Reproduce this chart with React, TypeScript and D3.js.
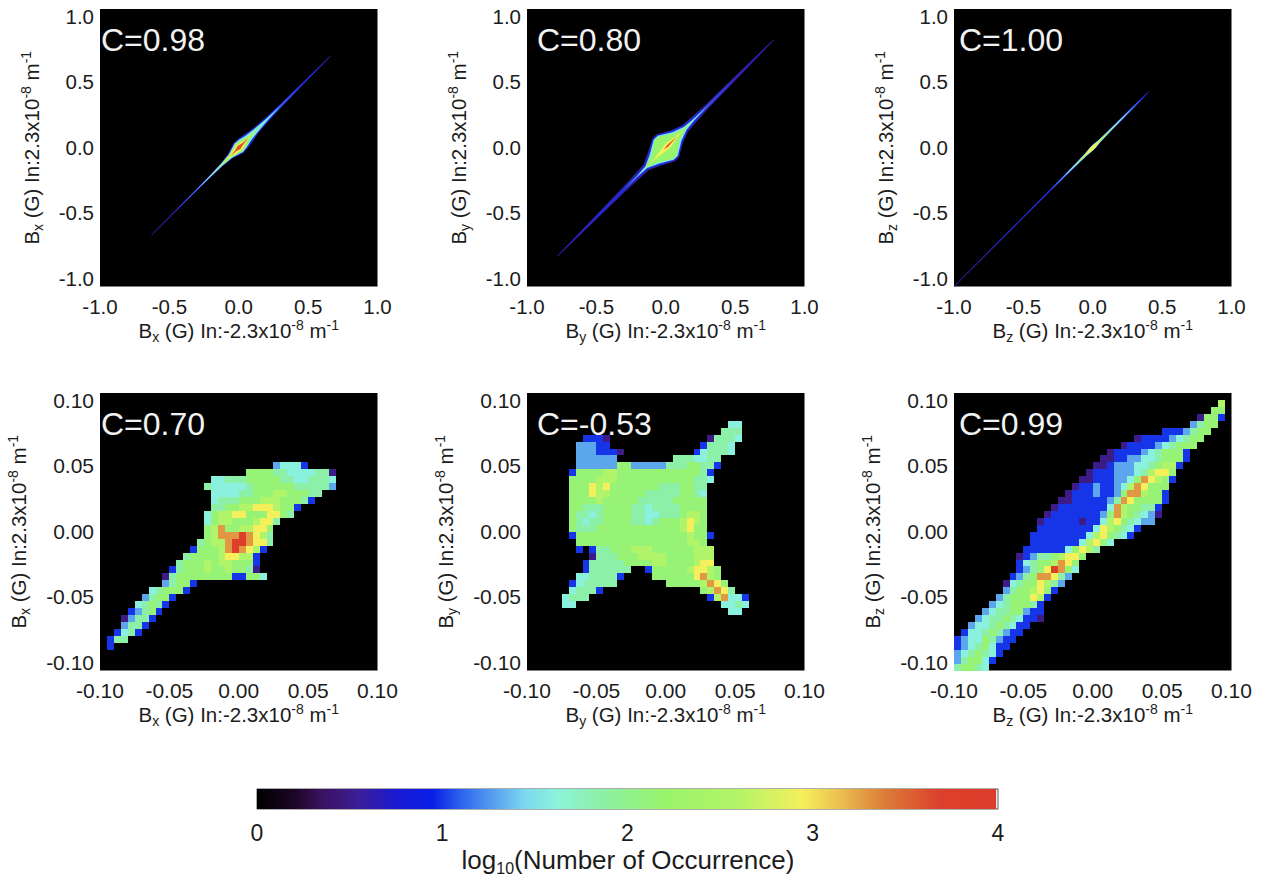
import React from "react";
import * as d3 from "d3";

// colour bar: log10(count) -> colour
const colorStops = [0, 0.2, 0.35, 0.55, 0.75, 0.95, 1.1, 1.3, 1.45, 1.62, 1.85, 2.2, 2.6, 2.95, 3.15, 3.4, 3.7, 4];
const colorValues = ["#000000", "#1c0626", "#3a1260", "#3c1e96", "#1a1ad2", "#0a1ee6", "#2c62ee", "#5ca6ee", "#7cd8f0", "#8cf4dc", "#8cf0a8", "#98f46c", "#b4f468", "#f4f05c", "#ecc050", "#dc7c38", "#dc402c", "#dc3c2c"];
const colorbarTicks = [0, 1, 2, 3, 4];

const wideTicks = [-1, -0.5, 0, 0.5, 1];
const narrowTicks = [-0.1, -0.05, 0, 0.05, 0.1];

// digit in the rows below -> log10(count) of a bin
const binLevels = [0.5, 1.0, 1.3, 1.6, 1.85, 2.15, 2.55, 2.95, 3.3, 3.75];

// 40x40 histograms, top row first. "col:digits" = run of bins starting at that column
const bxRows = [
  "", "", "", "", "", "", "", "", "", "",
  "25:23331",
  "21:5555443333440",
  "16:334445555544334443",
  "15:4333334555555444442",
  "16:3333445556655544",
  "16:344455566655541",
  "16:4455667776551",
  "15:3566775557754",
  "15:35665556774",
  "15:5685566775",
  "15:5688898764",
  "14:45668998774",
  "13:15556898761",
  "12:45555677661",
  "11:455565665551",
  "10:1455565565540",
  "9:045555555511553",
  "9:24551",
  "7:345551",
  "6:24551",
  "5:34541",
  "4:12451",
  "3:02441",
  "3:2441",
  "2:1341",
  "1:144",
  "1:1",
];

const byRows = [
  "", "", "", "",
  "29:33",
  "28:444",
  "8:111 11:0 26:04443",
  "7:22211 25:14443",
  "7:2221110 24:134443",
  "7:222222 21:4443344",
  "7:222222552222244455441",
  "6:155556655555555555541",
  "6:555566655555555555443",
  "6:55576755555554445544",
  "6:55576655555444445543",
  "6:55556555554444455555",
  "6:55444555544344445555",
  "6:54434555544334445665",
  "6:54344555544345556765",
  "6:54445555555555556755",
  "6:155555555555555556551",
  "7:5555555555555555665",
  "7:1 9:1 10:44555666555555666",
  "9:0 10:44455566665555666",
  "8:1 9:444445555665555677",
  "8:1444444 17:1 18:5555567765",
  "7:3344441 18:5555557865",
  "6:1 7:344444 20:555556875",
  "6:34441 25:56874",
  "5:3444 26:168331",
  "5:33 28:3343",
  "29:33",
];

const bzRows = [
  "",
  "38:6",
  "37:55",
  "35:0 36:551",
  "34:2455",
  "30:1112455",
  "26:0111123455",
  "24:01111234555",
  "22:011112345551",
  "21:0011223345551",
  "20:0012223345661",
  "19:0111222346775",
  "18:00111223587651",
  "17:01121123687555",
  "16:011121125886551",
  "15:0011111248755551",
  "14:0111111138655441",
  "13:01111111258654320",
  "12:01111101136754322",
  "12:111111113765431",
  "11:111111113675431",
  "11:111111136753",
  "10:11111135764",
  "9:0124456775",
  "9:134556875",
  "9:124579853",
  "8:124588742",
  "7:034557642",
  "7:24556751",
  "6:24555761",
  "5:23455541",
  "4:234455211",
  "3:2344543110",
  "2:233454311",
  "1:133454211",
  "0:123354211",
  "0:12345311",
  "0:2345431",
  "0:245531",
  "0:45543",
];

// top row: nested ridges along the diagonal, half thickness across it per colour level
const ridgeLevels = [0.6, 1.0, 1.55, 2.2, 2.95, 3.6];

const bxAlong = [-0.63, -0.45, -0.3, -0.2, -0.12, -0.06, -0.02, 0, 0.03, 0.07, 0.12, 0.2, 0.3, 0.45, 0.66];
const bxHalf = [
  [0.002, 0.003, 0.004, 0.005, 0.009, 0.016, 0.03, 0.036, 0.034, 0.028, 0.018, 0.012, 0.008, 0.005, 0.002],
  [0, 0.001, 0.002, 0.004, 0.007, 0.014, 0.027, 0.033, 0.031, 0.026, 0.016, 0.01, 0.006, 0.003, 0],
  [0, 0, 0.001, 0.003, 0.006, 0.012, 0.024, 0.03, 0.027, 0.018, 0.012, 0.005, 0.001, 0, 0],
  [0, 0, 0, 0, 0.003, 0.01, 0.02, 0.026, 0.022, 0.01, 0.002, 0, 0, 0, 0],
  [0, 0, 0, 0, 0, 0.003, 0.014, 0.018, 0.012, 0.002, 0, 0, 0, 0, 0],
  [0, 0, 0, 0, 0, 0, 0.004, 0.01, 0.004, 0, 0, 0, 0, 0, 0],
];

const byAlong = [-0.78, -0.5, -0.3, -0.2, -0.14, -0.08, -0.015, 0.015, 0.08, 0.14, 0.2, 0.3, 0.5, 0.78];
const byHalf = [
  [0.002, 0.008, 0.012, 0.017, 0.02, 0.048, 0.082, 0.082, 0.044, 0.022, 0.018, 0.012, 0.008, 0.002],
  [0, 0.002, 0.004, 0.007, 0.012, 0.042, 0.077, 0.077, 0.04, 0.016, 0.01, 0.004, 0.001, 0],
  [0, 0, 0, 0.002, 0.006, 0.034, 0.072, 0.072, 0.032, 0.01, 0.004, 0.001, 0, 0],
  [0, 0, 0, 0, 0.002, 0.024, 0.066, 0.066, 0.022, 0.004, 0, 0, 0, 0],
  [0, 0, 0, 0, 0, 0.002, 0.012, 0.016, 0.004, 0, 0, 0, 0, 0],
  [0, 0, 0, 0, 0, 0, 0, 0.005, 0, 0, 0, 0, 0, 0],
];

const bzAlong = [-1, -0.6, -0.3, -0.2, -0.12, -0.05, -0.01, 0.01, 0.05, 0.12, 0.2, 0.3, 0.36, 0.41];
const bzHalf = [
  [0.002, 0.003, 0.004, 0.005, 0.006, 0.008, 0.012, 0.012, 0.008, 0.006, 0.006, 0.005, 0.004, 0.001],
  [0, 0.001, 0.002, 0.004, 0.0055, 0.0075, 0.011, 0.011, 0.0075, 0.0055, 0.0055, 0.0045, 0.002, 0],
  [0, 0, 0, 0.002, 0.0045, 0.0065, 0.01, 0.01, 0.0065, 0.0045, 0.0035, 0.001, 0, 0],
  [0, 0, 0, 0, 0.001, 0.005, 0.009, 0.009, 0.005, 0.003, 0, 0, 0, 0],
  [0, 0, 0, 0, 0, 0.002, 0.008, 0.008, 0.001, 0, 0, 0, 0, 0],
  [0, 0, 0, 0, 0, 0, 0, 0, 0, 0, 0, 0, 0, 0],
];

const color = d3.scaleLinear<string>().domain(colorStops).range(colorValues).interpolate(d3.interpolateRgb).clamp(true);

const FONT = "'Liberation Sans', Arial, sans-serif";
const INK = "#1c1c1c";
const panelSize = 277.5;

function AxisTitle(props: { comp: string; sign: string; x: number; y: number; rotate?: boolean }) {
  const { comp, sign, x, y, rotate } = props;
  return (
    <text
      x={x}
      y={y}
      transform={rotate ? `rotate(-90 ${x} ${y})` : undefined}
      textAnchor="middle"
      fontFamily={FONT}
      fontSize={20.5}
      fill={INK}
    >
      B
      <tspan fontSize={14} dy={4}>{comp}</tspan>
      <tspan dy={-4}>{` (G) In:${sign}2.3x10`}</tspan>
      <tspan fontSize={14} dy={-8}>-8</tspan>
      <tspan dy={8}> m</tspan>
      <tspan fontSize={14} dy={-8}>-1</tspan>
    </text>
  );
}

function Frame(props: {
  left: number; top: number; ticks: number[]; fmt: string; comp: string; corr: string; labelX: number;
  tickSize: number; yTitleGap: number; children: React.ReactNode;
}) {
  const { left, top, ticks, fmt, comp, corr, labelX, tickSize, yTitleGap, children } = props;
  const max = ticks[ticks.length - 1];
  const xPos = d3.scaleLinear().domain([-max, max]).range([left, left + panelSize]);
  // the y labels are pulled inside the frame in the original
  const yLabel = d3.scaleLinear().domain([-max, max]).range([top + panelSize - 8, top + 8]);
  const f = (v: number) => d3.format(fmt)(v).replace("\u2212", "-");
  return (
    <g>
      <rect x={left} y={top} width={panelSize} height={panelSize} fill="#000" />
      {children}
      <text x={labelX} y={top + 42} fontFamily={FONT} fontSize={32} fill="#f2f2f2">{`C=${corr}`}</text>
      {ticks.map((t) => (
        <text key={"y" + t} x={left - 6} y={yLabel(t) + 7} textAnchor="end" fontFamily={FONT} fontSize={tickSize} fill={INK}>{f(t)}</text>
      ))}
      {ticks.map((t) => (
        <text key={"x" + t} x={xPos(t)} y={top + panelSize + 27} textAnchor="middle" fontFamily={FONT} fontSize={tickSize} fill={INK}>{f(t)}</text>
      ))}
      <AxisTitle comp={comp} sign="-" x={left + panelSize / 2} y={top + panelSize + 51} />
      <AxisTitle comp={comp} sign="" x={left - yTitleGap} y={top + panelSize / 2} rotate />
    </g>
  );
}

function Ridge(props: { left: number; top: number; along: number[]; halves: number[][] }) {
  const { left, top, along, halves } = props;
  const x = d3.scaleLinear().domain([-1, 1]).range([left, left + panelSize]);
  const y = d3.scaleLinear().domain([-1, 1]).range([top + panelSize, top]);
  const line = d3.line<[number, number]>().x((d) => x(d[0])).y((d) => y(d[1]));
  return (
    <g filter="url(#softer)">
      {halves.map((half, k) => {
        const upper = along.map((s, i) => [s - half[i], s + half[i]] as [number, number]);
        const lower = along.map((s, i) => [s + half[i], s - half[i]] as [number, number]).reverse();
        return <path key={k} d={(line(upper.concat(lower)) || "") + "Z"} fill={color(ridgeLevels[k])} />;
      })}
    </g>
  );
}

function parseRow(row: string) {
  return row.split(" ").filter(Boolean).flatMap((seg) => {
    const [start, digits] = seg.split(":");
    return [...digits].map((ch, i) => ({ col: +start + i, level: binLevels[+ch] }));
  });
}

function Heat(props: { left: number; top: number; rows: string[] }) {
  const { left, top, rows } = props;
  const bin = d3.scaleLinear().domain([0, 40]).range([-0.1, 0.1]);
  const x = d3.scaleLinear().domain([-0.1, 0.1]).range([left, left + panelSize]);
  const y = d3.scaleLinear().domain([-0.1, 0.1]).range([top + panelSize, top]);
  return (
    <g filter="url(#soft)" shapeRendering="crispEdges">
      {rows.flatMap((row, r) =>
        parseRow(row).map((c) => (
          <rect
            key={r + "-" + c.col}
            x={x(bin(c.col))}
            y={y(bin(40 - r))}
            width={x(bin(c.col + 1)) - x(bin(c.col))}
            height={y(bin(40 - r - 1)) - y(bin(40 - r))}
            fill={color(c.level)}
          />
        ))
      )}
    </g>
  );
}

function Colorbar() {
  const x = d3.scaleLinear().domain([0, 4]).range([257, 998]);
  return (
    <g>
      <defs>
        <linearGradient id="cbar" x1="0" x2="1" y1="0" y2="0">
          {colorStops.map((s, i) => (
            <stop key={s} offset={s / 4} stopColor={colorValues[i]} />
          ))}
        </linearGradient>
      </defs>
      <rect x={x(0)} y={789} width={x(4) - x(0)} height={20} fill="#fff" stroke="#333" strokeWidth={0.8} />
      <rect x={x(0)} y={789} width={x(3.99) - x(0)} height={20} fill="url(#cbar)" />
      {colorbarTicks.map((t) => (
        <text key={t} x={x(t)} y={841} textAnchor="middle" fontFamily={FONT} fontSize={23} fill={INK}>{t}</text>
      ))}
      <text x={628} y={869} textAnchor="middle" fontFamily={FONT} fontSize={26} fill={INK}>
        log
        <tspan fontSize={16} dy={5}>10</tspan>
        <tspan dy={-5}>(Number of Occurrence)</tspan>
      </text>
    </g>
  );
}

export default function App() {
  return (
    <svg width={1264} height={882} style={{ position: "absolute", left: 0, top: 0, background: "#fff" }}>
      <defs>
        <filter id="soft" x="-5%" y="-5%" width="110%" height="110%">
          <feGaussianBlur stdDeviation={0.7} />
        </filter>
        <filter id="softer" x="-5%" y="-5%" width="110%" height="110%">
          <feGaussianBlur stdDeviation={0.5} />
        </filter>
      </defs>
      <Frame left={100} top={9} ticks={wideTicks} fmt=".1f" comp="x" corr="0.98" labelX={101} tickSize={20.5} yTitleGap={61}>
        <Ridge left={100} top={9} along={bxAlong} halves={bxHalf} />
      </Frame>
      <Frame left={527} top={9} ticks={wideTicks} fmt=".1f" comp="y" corr="0.80" labelX={537} tickSize={20.5} yTitleGap={61}>
        <Ridge left={527} top={9} along={byAlong} halves={byHalf} />
      </Frame>
      <Frame left={954} top={9} ticks={wideTicks} fmt=".1f" comp="z" corr="1.00" labelX={959} tickSize={20.5} yTitleGap={61}>
        <Ridge left={954} top={9} along={bzAlong} halves={bzHalf} />
      </Frame>
      <Frame left={100} top={393} ticks={narrowTicks} fmt=".2f" comp="x" corr="0.70" labelX={101} tickSize={21} yTitleGap={74}>
        <Heat left={100} top={393} rows={bxRows} />
      </Frame>
      <Frame left={527} top={393} ticks={narrowTicks} fmt=".2f" comp="y" corr="-0.53" labelX={537} tickSize={21} yTitleGap={74}>
        <Heat left={527} top={393} rows={byRows} />
      </Frame>
      <Frame left={954} top={393} ticks={narrowTicks} fmt=".2f" comp="z" corr="0.99" labelX={959} tickSize={21} yTitleGap={74}>
        <Heat left={954} top={393} rows={bzRows} />
      </Frame>
      <Colorbar />
    </svg>
  );
}
